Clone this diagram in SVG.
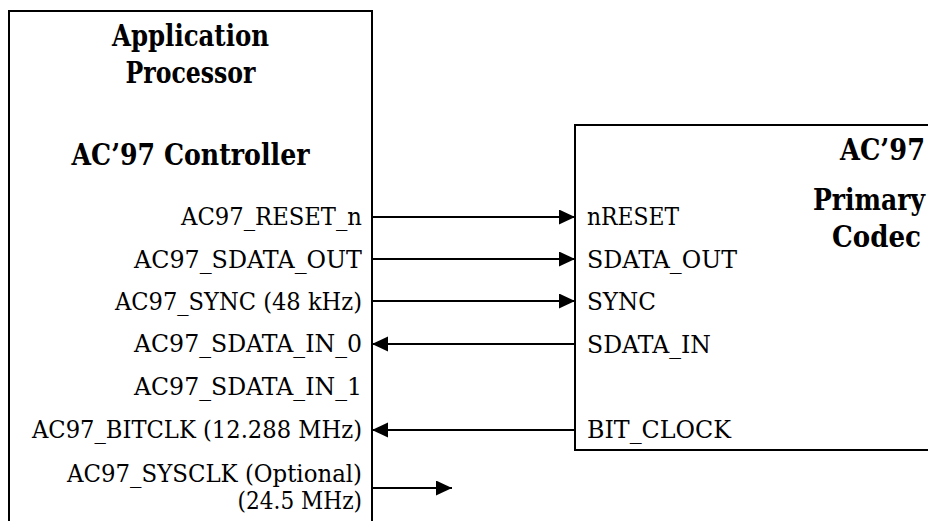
<svg xmlns="http://www.w3.org/2000/svg" width="928" height="521" viewBox="0 0 928 521">
<style>
.box{fill:#fff;stroke:#000;stroke-width:2}
.t{font-family:"DejaVu Serif",serif;font-size:23.5px;fill:#000}
.b{font-family:"DejaVu Serif",serif;font-size:29px;font-weight:bold;fill:#000}
.c{stroke:#000;stroke-width:2;fill:none}
</style>
<defs>
<marker id="ah" markerUnits="userSpaceOnUse" markerWidth="17" markerHeight="16" refX="16" refY="7.5" orient="auto">
<path d="M0,0 L16,7.5 L0,15 Z" fill="#000"/>
</marker>
</defs>
<rect width="928" height="521" fill="#fff"/>
<g id="app-processor">
<rect class="box" x="9" y="11" width="363" height="530"/>
<text class="b" x="190.5" y="46" text-anchor="middle" textLength="157" lengthAdjust="spacingAndGlyphs">Application</text>
<text class="b" x="190.5" y="82.5" text-anchor="middle" textLength="130" lengthAdjust="spacingAndGlyphs">Processor</text>
<text class="b" x="190.5" y="165" text-anchor="middle" textLength="238" lengthAdjust="spacingAndGlyphs">AC’97 Controller</text>
<text class="t" x="362" y="225" text-anchor="end" textLength="181" lengthAdjust="spacingAndGlyphs">AC97_RESET_n</text>
<text class="t" x="362" y="268" text-anchor="end" textLength="228" lengthAdjust="spacingAndGlyphs">AC97_SDATA_OUT</text>
<text class="t" x="362" y="310" text-anchor="end" textLength="247" lengthAdjust="spacingAndGlyphs">AC97_SYNC (48 kHz)</text>
<text class="t" x="362" y="352" text-anchor="end" textLength="228" lengthAdjust="spacingAndGlyphs">AC97_SDATA_IN_0</text>
<text class="t" x="362" y="395" text-anchor="end" textLength="228" lengthAdjust="spacingAndGlyphs">AC97_SDATA_IN_1</text>
<text class="t" x="362" y="438" text-anchor="end" textLength="330" lengthAdjust="spacingAndGlyphs">AC97_BITCLK (12.288 MHz)</text>
<text class="t" x="362" y="482" text-anchor="end" textLength="295" lengthAdjust="spacingAndGlyphs">AC97_SYSCLK (Optional)</text>
<text class="t" x="362" y="509" text-anchor="end" textLength="124.5" lengthAdjust="spacingAndGlyphs">(24.5 MHz)</text>
</g>
<g id="primary-codec">
<rect class="box" x="575" y="125" width="400" height="325"/>
<text class="b" x="925" y="160" text-anchor="end" textLength="85" lengthAdjust="spacingAndGlyphs">AC’97</text>
<text class="b" x="925" y="210" text-anchor="end" textLength="112" lengthAdjust="spacingAndGlyphs">Primary</text>
<text class="b" x="921" y="247" text-anchor="end" textLength="89" lengthAdjust="spacingAndGlyphs">Codec</text>
<text class="t" x="587" y="225" textLength="92" lengthAdjust="spacingAndGlyphs">nRESET</text>
<text class="t" x="587" y="268" textLength="150" lengthAdjust="spacingAndGlyphs">SDATA_OUT</text>
<text class="t" x="587" y="310" textLength="69" lengthAdjust="spacingAndGlyphs">SYNC</text>
<text class="t" x="587" y="353" textLength="124" lengthAdjust="spacingAndGlyphs">SDATA_IN</text>
<text class="t" x="587" y="438" textLength="144" lengthAdjust="spacingAndGlyphs">BIT_CLOCK</text>
</g>
<g id="connectors">
<line class="c" x1="372" y1="217" x2="575" y2="217" marker-end="url(#ah)"/>
<line class="c" x1="372" y1="259" x2="575" y2="259" marker-end="url(#ah)"/>
<line class="c" x1="372" y1="301" x2="575" y2="301" marker-end="url(#ah)"/>
<line class="c" x1="575" y1="344" x2="372" y2="344" marker-end="url(#ah)"/>
<line class="c" x1="575" y1="430" x2="372" y2="430" marker-end="url(#ah)"/>
<line class="c" x1="372" y1="488" x2="452" y2="488" marker-end="url(#ah)"/>
</g>
</svg>
